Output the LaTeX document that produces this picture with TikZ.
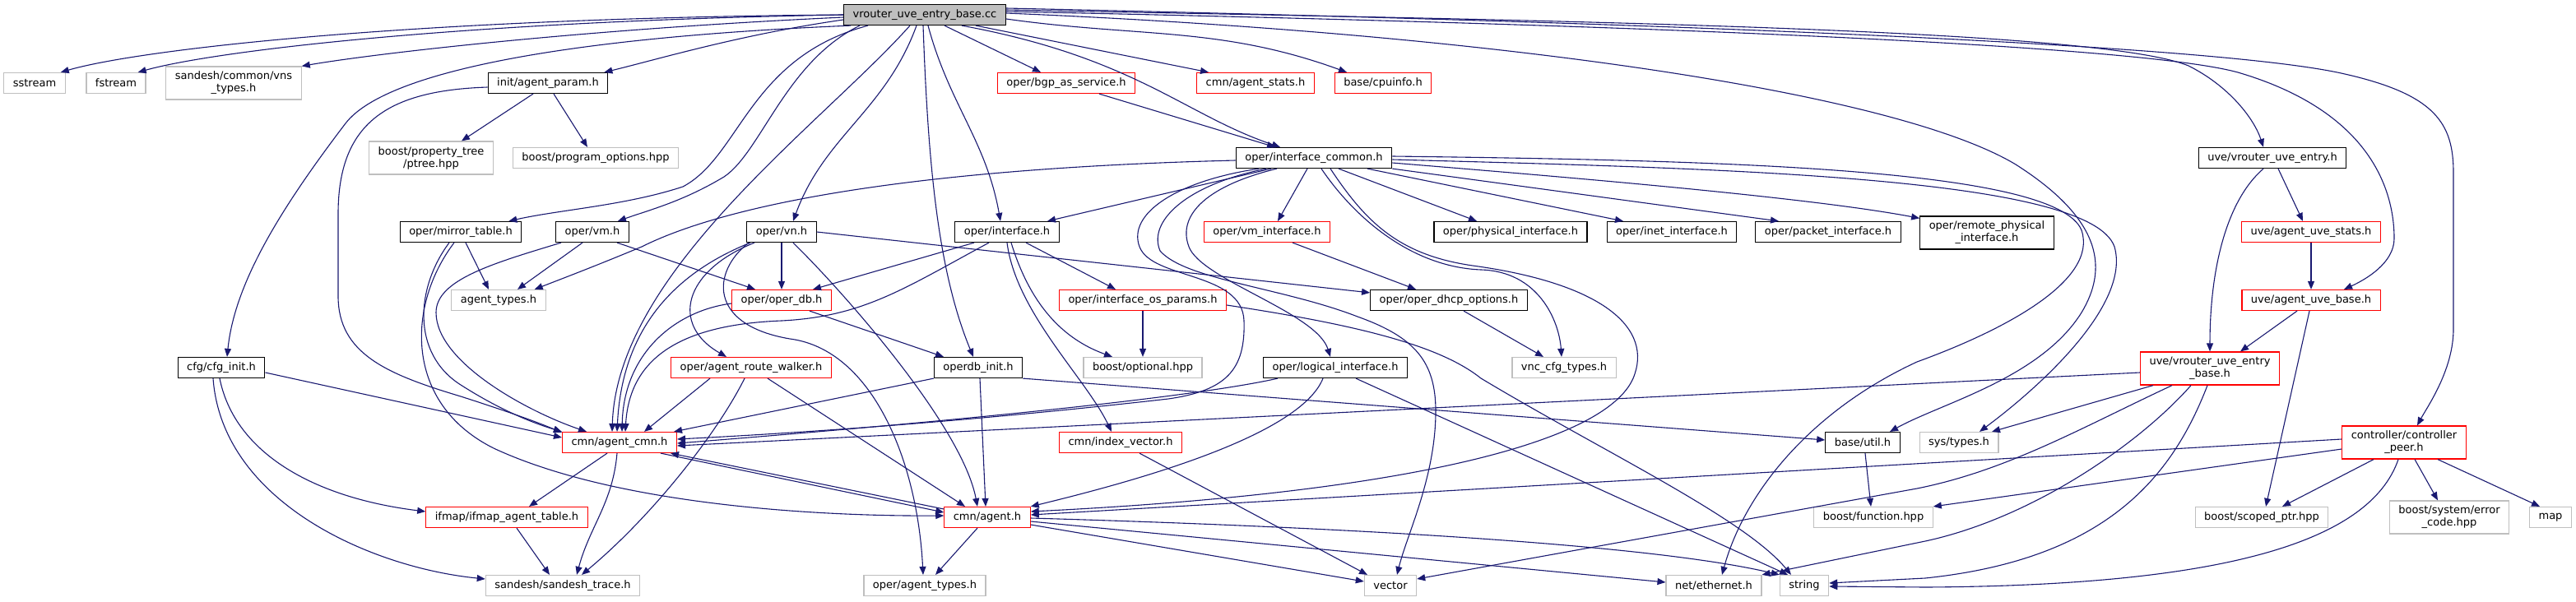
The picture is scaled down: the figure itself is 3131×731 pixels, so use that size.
\documentclass[tikz,border=0pt]{standalone}
\usepackage{fontspec}
\setmainfont{DejaVu Sans}
\usetikzlibrary{arrows.meta}
\definecolor{edgeblue}{RGB}{25,25,112}
\definecolor{boxred}{RGB}{255,0,0}
\definecolor{boxgray}{RGB}{191,191,191}

\begin{document}
\begin{tikzpicture}[x=1pt, y=-1pt,
    hdr/.style={draw=black, line width=1.2pt, fill=white, text=black, font=\fontsize{13}{15}\selectfont, inner xsep=11pt, inner ysep=2pt, minimum height=25pt, align=center},
    docbox/.style={hdr},
    redbox/.style={hdr, draw=boxred},
    sysbox/.style={hdr, draw=boxgray},
    rootbox/.style={hdr, fill=boxgray},
    twoline/.style={minimum height=40pt},
    dep/.style={draw=edgeblue, line width=1.1pt, -{Triangle[length=10pt,width=8pt]}}
]
    \useasboundingbox (0,0) rectangle (3131,731);

    % Fichero fuente
    \node[rootbox] (root) at (1124,18) {vrouter\_uve\_entry\_base.cc};

    % Cabeceras incluidas directamente
    \node[sysbox] (sstream) at (42,101) {sstream};
    \node[sysbox] (fstream) at (141,101) {fstream};
    \node[sysbox, twoline] (vnstypes) at (284,101) {sandesh/common/vns\\\_types.h};
    \node[docbox] (agentparam) at (666,101) {init/agent\_param.h};
    \node[redbox] (bgpsvc) at (1296,101) {oper/bgp\_as\_service.h};
    \node[redbox] (agentstats) at (1526,101) {cmn/agent\_stats.h};
    \node[redbox] (cpuinfo) at (1681,101) {base/cpuinfo.h};

    \node[sysbox, twoline] (ptree) at (524,192) {boost/property\_tree\\/ptree.hpp};
    \node[sysbox] (progopts) at (724,192) {boost/program\_options.hpp};
    \node[docbox] (ifcommon) at (1597,192) {oper/interface\_common.h};
    \node[docbox] (uveentry) at (2762,192) {uve/vrouter\_uve\_entry.h};

    \node[docbox] (mirror) at (560,282) {oper/mirror\_table.h};
    \node[docbox] (vmh) at (720,282) {oper/vm.h};
    \node[docbox] (vnh) at (950,282) {oper/vn.h};
    \node[docbox] (intf) at (1224,282) {oper/interface.h};
    \node[redbox] (vmintf) at (1540,282) {oper/vm\_interface.h};
    \node[docbox] (physintf) at (1836,282) {oper/physical\_interface.h};
    \node[docbox] (inetintf) at (2032,282) {oper/inet\_interface.h};
    \node[docbox] (pktintf) at (2222,282) {oper/packet\_interface.h};
    \node[docbox, twoline] (rphysintf) at (2415,283) {oper/remote\_physical\\\_interface.h};
    \node[redbox] (uvestats) at (2809,282) {uve/agent\_uve\_stats.h};

    \node[sysbox] (agtypes) at (606,365) {agent\_types.h};
    \node[redbox] (operdb) at (950,365) {oper/oper\_db.h};
    \node[redbox] (osparams) at (1389,365) {oper/interface\_os\_params.h};
    \node[docbox] (dhcpopts) at (1761,365) {oper/oper\_dhcp\_options.h};
    \node[redbox] (uvebase) at (2809,365) {uve/agent\_uve\_base.h};

    \node[docbox] (cfginit) at (269,447) {cfg/cfg\_init.h};
    \node[redbox] (routewalker) at (913,447) {oper/agent\_route\_walker.h};
    \node[docbox] (operdbinit) at (1189,447) {operdb\_init.h};
    \node[sysbox] (optional) at (1389,447) {boost/optional.hpp};
    \node[docbox] (logintf) at (1623,447) {oper/logical\_interface.h};
    \node[sysbox] (vnccfg) at (1901,447) {vnc\_cfg\_types.h};
    \node[redbox, twoline] (uveentrybase) at (2686,448) {uve/vrouter\_uve\_entry\\\_base.h};

    \node[redbox] (agentcmn) at (753,538) {cmn/agent\_cmn.h};
    \node[redbox] (indexvec) at (1362,538) {cmn/index\_vector.h};
    \node[docbox] (utilh) at (2264,538) {base/util.h};
    \node[sysbox] (systypes) at (2381,538) {sys/types.h};
    \node[redbox, twoline] (ctrlpeer) at (2922,538) {controller/controller\\\_peer.h};

    \node[redbox] (ifmaptable) at (616,629) {ifmap/ifmap\_agent\_table.h};
    \node[redbox] (agenth) at (1200,629) {cmn/agent.h};
    \node[sysbox] (function) at (2277,629) {boost/function.hpp};
    \node[sysbox] (scopedptr) at (2749,629) {boost/scoped\_ptr.hpp};
    \node[sysbox, twoline] (errcode) at (2977,629) {boost/system/error\\\_code.hpp};
    \node[sysbox] (maph) at (3100,629) {map};

    \node[sysbox] (sandeshtrace) at (684,712) {sandesh/sandesh\_trace.h};
    \node[sysbox] (operagtypes) at (1124,712) {oper/agent\_types.h};
    \node[sysbox] (vectorh) at (1690,712) {vector};
    \node[sysbox] (ethernet) at (2083,712) {net/ethernet.h};
    \node[sysbox] (stringh) at (2193,712) {string};

    % Dependencias del fichero fuente
    \draw[dep] (root.west) .. controls (500,22) and (170,60) .. ([xshift=-6pt]sstream.north east);
    \draw[dep] (root.west) .. controls (560,26) and (260,62) .. ([xshift=-10pt]fstream.north east);
    \draw[dep] ([yshift=-3pt]root.west) .. controls (700,36) and (450,66) .. (vnstypes.north east);
    \draw[dep] ([yshift=-6pt]root.west) .. controls (900,42) and (800,72) .. ([xshift=-5pt]agentparam.north east);
    \draw[dep] ([xshift=-90pt]root.south) .. controls (700,45) and (470,85) .. (420,150) .. controls (340,255) and (285,345) .. ([xshift=7pt]cfginit.north);
    \draw[dep] ([xshift=-69pt]root.south) .. controls (910,70) and (900,190) .. (830,227) .. controls (760,250) and (680,255) .. ([xshift=-16pt]mirror.north east);
    \draw[dep] ([xshift=-79pt]root.south) .. controls (955,75) and (925,185) .. (880,215) .. controls (830,245) and (790,255) .. ([xshift=-14pt]vmh.north east);
    \draw[dep] ([xshift=-18pt]root.south) .. controls (1000,150) and (750,330) .. ([xshift=-9pt]agentcmn.north);
    \draw[dep] ([xshift=-10pt]root.south) to[out=250,in=70] ([xshift=14pt]vnh.north);
    \draw[dep] ([xshift=-2pt]root.south) .. controls (1128,200) and (1140,330) .. ([xshift=-6pt]operdbinit.north);
    \draw[dep] ([xshift=4pt]root.south) to[out=285,in=100] ([xshift=-8pt]intf.north);
    \draw[dep] ([xshift=24pt]root.south) -- ([xshift=-31pt]bgpsvc.north);
    \draw[dep] ([xshift=45pt]root.south) .. controls (1380,70) and (1440,140) .. ([xshift=-41pt]ifcommon.north);
    \draw[dep] ([xshift=62pt]root.south) -- ([xshift=-57pt]agentstats.north);
    \draw[dep] ([yshift=-5pt]root.east) to[out=-8,in=160] ([xshift=-44pt]cpuinfo.north);
    \draw[dep] ([yshift=6pt]root.east) .. controls (1900,25) and (2550,35) .. (2660,80) .. controls (2710,105) and (2740,145) .. ([xshift=-11pt]uveentry.north);
    \draw[dep] ([yshift=4pt]root.east) .. controls (2000,30) and (2600,55) .. (2720,88) .. controls (2880,135) and (2910,230) .. (2910,290) .. controls (2910,320) and (2875,340) .. ([xshift=40pt]uvebase.north);
    \draw[dep] ([yshift=8pt]root.east) .. controls (2050,28) and (2700,55) .. (2850,90) .. controls (2960,115) and (2982,150) .. (2982,210) -- (2982,400) .. controls (2982,450) and (2950,495) .. ([xshift=16pt]ctrlpeer.north);
    \draw[dep] ([yshift=2pt]root.east) .. controls (1800,40) and (2300,110) .. (2450,200) .. controls (2560,270) and (2560,330) .. (2530,380) .. controls (2480,460) and (2360,490) .. ([xshift=33pt]utilh.north);

    % interface_common.h
    \draw[dep] ([yshift=-3pt]ifcommon.west) .. controls (1100,205) and (880,250) .. (780,300) .. controls (720,325) and (680,340) .. ([xshift=-14pt]agtypes.north east);
    \draw[dep] ([xshift=-52pt]ifcommon.south) -- ([xshift=49pt]intf.north);
    \draw[dep] ([xshift=-8pt]ifcommon.south) -- ([xshift=13pt]vmintf.north);
    \draw[dep] ([xshift=30pt]ifcommon.south) -- ([xshift=-41pt]physintf.north);
    \draw[dep] ([xshift=65pt]ifcommon.south) -- ([xshift=-59pt]inetintf.north);
    \draw[dep] (ifcommon.south east) -- ([xshift=-60pt]pktintf.north);
    \draw[dep] ([yshift=-6pt]ifcommon.east) .. controls (1900,215) and (2200,240) .. ([yshift=-3pt]rphysintf.north west);
    \draw[dep] ([xshift=-45pt]ifcommon.south) .. controls (1470,225) and (1430,260) .. (1445,300) .. controls (1460,340) and (1600,380) .. ([xshift=-6pt]logintf.north);
    \draw[dep] ([xshift=-67pt]ifcommon.south) .. controls (1430,220) and (1370,260) .. (1385,300) .. controls (1400,340) and (1510,330) .. (1512,390) .. controls (1514,450) and (1490,475) .. (1420,485) .. controls (1200,510) and (1000,525) .. ([yshift=4pt]agentcmn.east);
    \draw[dep] ([xshift=-58pt]ifcommon.south) .. controls (1440,225) and (1395,270) .. (1410,305) .. controls (1440,340) and (1560,350) .. (1650,385) .. controls (1720,410) and (1745,440) .. (1745,500) .. controls (1745,580) and (1710,650) .. ([xshift=8pt]vectorh.north);
    \draw[dep] ([xshift=9pt]ifcommon.south) .. controls (1650,270) and (1720,325) .. (1800,328) .. controls (1870,330) and (1895,390) .. ([xshift=-3pt]vnccfg.north);
    \draw[dep] ([xshift=20pt]ifcommon.south) .. controls (1660,270) and (1700,310) .. (1790,323) .. controls (1950,345) and (2010,400) .. (1985,460) .. controls (1950,540) and (1700,600) .. ([yshift=7pt]agenth.east);
    \draw[dep] ([yshift=2pt]ifcommon.east) .. controls (2100,195) and (2500,205) .. (2530,280) .. controls (2550,340) and (2440,400) .. (2330,440) .. controls (2200,500) and (2120,600) .. ([xshift=10pt]ethernet.north);
    \draw[dep] ([yshift=-2pt]ifcommon.east) .. controls (2100,205) and (2540,215) .. (2570,300) .. controls (2590,370) and (2480,470) .. ([xshift=25pt]systypes.north);
    \draw[dep] ([xshift=40pt]bgpsvc.south) -- ([xshift=-47pt]ifcommon.north);

    % agent_param.h y cfg_init.h
    \draw[dep] ([xshift=-18pt]agentparam.south) -- ([xshift=37pt]ptree.north);
    \draw[dep] ([xshift=7pt]agentparam.south) -- ([xshift=-10pt]progopts.north);
    \draw[dep] ([yshift=-5pt]agentparam.west) .. controls (470,110) and (411,150) .. (411,260) -- (411,360) .. controls (411,430) and (470,455) .. (560,482) .. controls (610,498) and (650,512) .. ([yshift=-1pt]agentcmn.north west);
    \draw[dep] ([yshift=-6pt]cfginit.east) -- ([yshift=6pt]agentcmn.west);
    \draw[dep] ([xshift=-2pt]cfginit.south) .. controls (285,550) and (380,605) .. ([yshift=7pt]ifmaptable.west);
    \draw[dep] ([xshift=-10pt]cfginit.south) .. controls (270,610) and (450,690) .. ([yshift=8pt]sandeshtrace.west);

    % mirror_table.h, vm.h, vn.h
    \draw[dep] ([xshift=6pt]mirror.south) -- ([xshift=-12pt]agtypes.north);
    \draw[dep] ([xshift=-14pt]mirror.south) .. controls (505,350) and (500,430) .. (560,468) .. controls (610,500) and (650,515) .. (agentcmn.north west);
    \draw[dep] ([xshift=-8pt]mirror.south) .. controls (495,370) and (490,490) .. (600,545) .. controls (750,615) and (1000,628) .. ([yshift=2pt]agenth.west);
    \draw[dep] ([xshift=-12pt]vmh.south) -- ([xshift=23pt]agtypes.north);
    \draw[dep] ([xshift=-38pt]vmh.south) .. controls (600,320) and (530,340) .. (530,380) .. controls (530,440) and (640,500) .. ([xshift=-40pt]agentcmn.north);
    \draw[dep] ([xshift=30pt]vmh.south) -- ([xshift=-32pt]operdb.north);
    \draw[dep] (vnh.south) -- (operdb.north);
    \draw[dep] ([xshift=-38pt]vnh.south) .. controls (800,340) and (755,420) .. ([xshift=-3pt]agentcmn.north);
    \draw[dep] ([xshift=-33pt]vnh.south) .. controls (830,330) and (815,395) .. ([xshift=-30pt]routewalker.north);
    \draw[dep] ([xshift=14pt]vnh.south) .. controls (1030,360) and (1170,520) .. ([xshift=-12pt]agenth.north);
    \draw[dep] ([xshift=-40pt]vnh.south) .. controls (865,330) and (860,395) .. (960,412) .. controls (1060,425) and (1115,560) .. ([xshift=-2pt]operagtypes.north);
    \draw[dep] (vnh.east) -- ([yshift=-4pt]dhcpopts.north west);

    % interface.h y oper_db.h
    \draw[dep] ([xshift=-40pt]intf.south) -- ([xshift=38pt]operdb.north);
    \draw[dep] ([xshift=-22pt]intf.south) .. controls (1100,350) and (1050,385) .. (950,390) .. controls (820,395) and (765,440) .. ([xshift=7pt]agentcmn.north);
    \draw[dep] ([xshift=23pt]intf.south) -- ([xshift=-33pt]osparams.north);
    \draw[dep] ([xshift=5pt]intf.south) .. controls (1255,380) and (1300,415) .. ([xshift=-37pt]optional.north);
    \draw[dep] (intf.south) .. controls (1235,380) and (1320,460) .. ([xshift=-11pt]indexvec.north);
    \draw[dep] (osparams.south) -- (optional.north);
    \draw[dep] ([yshift=-6pt]osparams.east) .. controls (1650,395) and (1750,420) .. (1800,460) .. controls (1950,550) and (2120,630) .. ([xshift=-16pt]stringh.north);
    \draw[dep] ([xshift=34pt]operdb.south) -- ([xshift=-42pt]operdbinit.north);
    \draw[dep] ([yshift=-4pt]operdb.west) .. controls (820,378) and (758,430) .. ([xshift=3pt]agentcmn.north);

    % agent_route_walker.h, operdb_init.h, logical_interface.h
    \draw[dep] ([xshift=-50pt]routewalker.south) -- ([xshift=30pt]agentcmn.north);
    \draw[dep] ([xshift=-8pt]routewalker.south) .. controls (870,530) and (790,630) .. ([xshift=23pt]sandeshtrace.north);
    \draw[dep] ([xshift=20pt]routewalker.south) -- ([xshift=-27pt]agenth.north);
    \draw[dep] (operdbinit.south west) -- ([xshift=-4pt]agentcmn.north east);
    \draw[dep] ([xshift=2pt]operdbinit.south) -- ([xshift=-2pt]agenth.north);
    \draw[dep] (operdbinit.south east) -- ([yshift=3pt]utilh.west);
    \draw[dep] ([xshift=-70pt]logintf.south) .. controls (1420,490) and (1000,525) .. ([yshift=-1pt]agentcmn.east);
    \draw[dep] ([xshift=-15pt]logintf.south) .. controls (1580,530) and (1380,585) .. (agenth.north east);
    \draw[dep] ([xshift=25pt]logintf.south) -- ([xshift=-20pt]stringh.north);
    \draw[dep] ([xshift=31pt]vmintf.south) -- ([xshift=-40pt]dhcpopts.north);
    \draw[dep] ([xshift=18pt]dhcpopts.south) -- ([xshift=-25pt]vnccfg.north);
    \draw[dep] ([xshift=23pt]indexvec.south) -- ([xshift=-28pt]vectorh.north);

    % agent_cmn.h y agent.h
    \draw[dep] ([xshift=-15pt]agentcmn.south) -- ([xshift=27pt]ifmaptable.north);
    \draw[dep] ([xshift=-3pt]agentcmn.south) to[out=265,in=75] ([xshift=17pt]sandeshtrace.north);
    \draw[dep] ([xshift=50pt]agentcmn.south) -- ([yshift=6pt]agenth.west);
    \draw[dep] ([yshift=10pt]agenth.west) -- ([xshift=62pt]agentcmn.south);
    \draw[dep] ([xshift=12pt]ifmaptable.south) -- ([xshift=-16pt]sandeshtrace.north);
    \draw[dep] ([xshift=-12pt]agenth.south) -- ([xshift=13pt]operagtypes.north);
    \draw[dep] ([yshift=-9pt]agenth.east) -- ([yshift=5pt]vectorh.west);
    \draw[dep] ([yshift=-5pt]agenth.east) -- ([yshift=4pt]ethernet.west);
    \draw[dep] ([yshift=-1pt]agenth.east) .. controls (1600,640) and (2000,660) .. (stringh.north west);
    \draw[dep] ([xshift=3pt]utilh.south) -- ([xshift=-3pt]function.north);

    % Cabeceras uve/
    \draw[dep] ([xshift=7pt]uveentry.south) -- ([xshift=-10pt]uvestats.north);
    \draw[dep] ([xshift=-11pt]uveentry.south) .. controls (2705,245) and (2686,330) .. (uveentrybase.north);
    \draw[dep] (uvestats.south) -- (uvebase.north);
    \draw[dep] ([xshift=-17pt]uvebase.south) -- ([xshift=37pt]uveentrybase.north);
    \draw[dep] ([xshift=-2pt]uvebase.south) -- ([xshift=5pt]scopedptr.north);
    \draw[dep] ([yshift=-5pt]uveentrybase.west) -- ([yshift=-4pt]agentcmn.east);
    \draw[dep] ([xshift=-69pt]uveentrybase.south) -- ([xshift=40pt]systypes.north);
    \draw[dep] ([xshift=-46pt]uveentrybase.south) .. controls (2530,520) and (2440,572) .. (2330,594) -- ([yshift=8pt]vectorh.east);
    \draw[dep] ([xshift=-23pt]uveentrybase.south) .. controls (2600,540) and (2470,630) .. (2340,658) -- (ethernet.north east);
    \draw[dep] ([xshift=-3pt]uveentrybase.south) .. controls (2640,580) and (2560,680) .. (2340,703) -- ([yshift=3pt]stringh.east);

    % controller_peer.h
    \draw[dep] ([yshift=4pt]ctrlpeer.west) -- ([yshift=3pt]agenth.east);
    \draw[dep] ([yshift=-8pt]ctrlpeer.west) -- (function.north east);
    \draw[dep] ([xshift=-37pt]ctrlpeer.south) -- ([xshift=25pt]scopedptr.north);
    \draw[dep] ([xshift=13pt]ctrlpeer.south) -- ([xshift=-14pt]errcode.north);
    \draw[dep] ([xshift=41pt]ctrlpeer.south) -- ([xshift=-13pt]maph.north);
    \draw[dep] ([xshift=-7pt]ctrlpeer.south) .. controls (2880,660) and (2700,712) .. (2340,714) -- ([yshift=-1pt]stringh.east);
\end{tikzpicture}
\end{document}
